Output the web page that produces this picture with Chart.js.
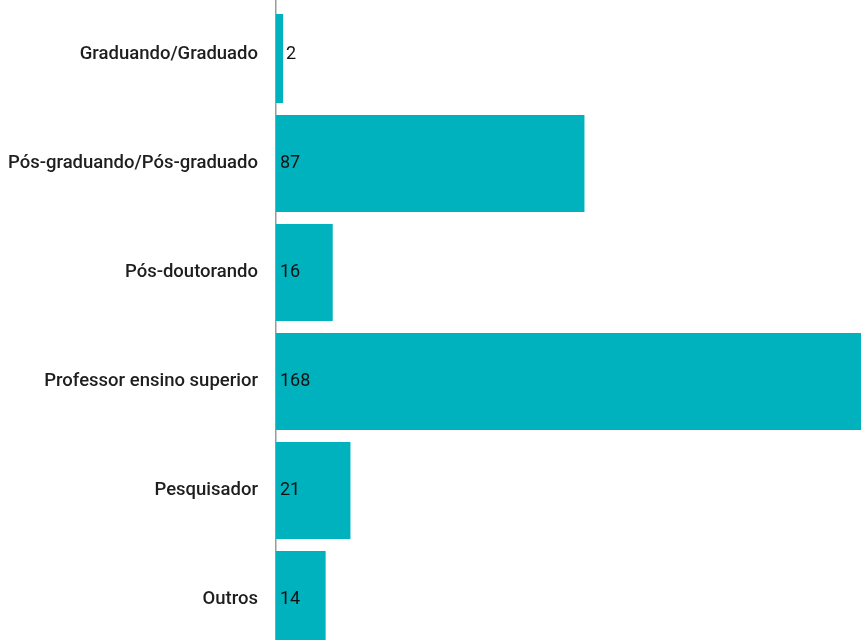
<!DOCTYPE html>
<html>
<head>
<meta charset="utf-8">
<script src="https://cdn.jsdelivr.net/npm/chart.js@4"></script>
<style>
  html, body { margin: 0; padding: 0; background: #fff; overflow: hidden; }
  #wrap { position: absolute; left: 0; top: 0; width: 861px; height: 654px; }
</style>
</head>
<body>
<div id="wrap"><canvas id="barChart"></canvas></div>
<script>
// categorias e valores
const categories = [
    'Graduando/Graduado',
    'Pós-graduando/Pós-graduado',
    'Pós-doutorando',
    'Professor ensino superior',
    'Pesquisador',
    'Outros'
];
const counts = [2, 87, 16, 168, 21, 14];
const xMax = 165; // eixo cortado na borda direita

const barColor = '#00b2be';

// rótulos de valor no início da barra
const valueLabels = {
    id: 'valueLabels',
    afterDatasetsDraw(chart) {
        const ctx = chart.ctx;
        const meta = chart.getDatasetMeta(0);
        ctx.save();
        ctx.font = '18px Roboto';
        ctx.fillStyle = '#111';
        ctx.textBaseline = 'middle';
        ctx.textAlign = 'left';
        meta.data.forEach((bar, i) => {
            const txt = String(counts[i]);
            const w = ctx.measureText(txt).width;
            const barW = bar.x - bar.base;
            const x = barW < w + 8 ? bar.x + 3 : bar.base + 4;
            ctx.fillText(txt, x, bar.y);
        });
        ctx.restore();
    }
};

const ctx = document.getElementById('barChart').getContext('2d');
new Chart(ctx, {
    type: 'bar',
    data: {
        labels: categories,
        datasets: [{
            data: counts,
            backgroundColor: barColor,
            borderWidth: 0,
            barPercentage: 0.89,
            categoryPercentage: 1,
            clip: { left: 0, top: -14, right: 0, bottom: 0 }
        }]
    },
    options: {
        indexAxis: 'y',
        responsive: true,
        maintainAspectRatio: false,
        animation: false,
        layout: { padding: 0 },
        plugins: {
            legend: { display: false },
            tooltip: { enabled: false }
        },
        scales: {
            x: {
                display: false,
                min: 0,
                max: xMax
            },
            y: {
                afterFit(scale) {
                    scale.width = 276;
                    scale.paddingTop = 0;
                    scale.paddingBottom = 0;
                },
                grid: { display: false, drawTicks: false },
                border: { display: true, color: '#9a9a9a', width: 1.5 },
                ticks: {
                    padding: 18,
                    color: '#1e1e1e',
                    font: { family: 'Roboto', size: 18.5, weight: '500' }
                }
            }
        }
    },
    plugins: [valueLabels]
});
</script>
</body>
</html>
